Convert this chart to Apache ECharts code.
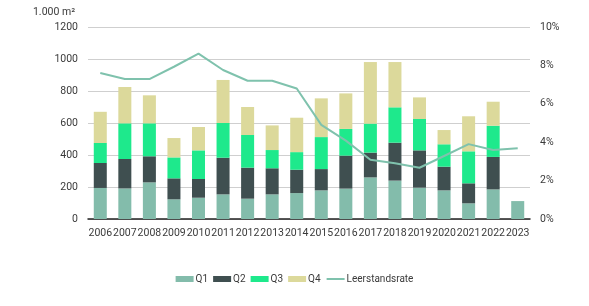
<!DOCTYPE html>
<html><head><meta charset="utf-8">
<script src="https://cdn.jsdelivr.net/npm/echarts@6/dist/echarts.min.js"></script>
<style>html,body{margin:0;padding:0;background:#fff}#c{width:589px;height:306px}</style>
</head><body><div id="c"></div>
<script>
const years = ['2006','2007','2008','2009','2010','2011','2012','2013','2014','2015','2016','2017','2018','2019','2020','2021','2022','2023'];
const q1 = [194,191,229,123,133,154,127,154,162,179,190,260,240,196,179,98,185,112];
const q2 = [156,184,163,131,117,229,194,163,146,133,206,155,237,233,148,125,203,null];
const q3 = [125,223,206,131,179,217,204,114,110,200,167,181,221,196,140,200,195,null];
const q4 = [195,227,175,121,146,269,175,154,215,242,222,385,283,135,89,219,150,null];
const rate = [7.6,7.29,7.29,7.93,8.61,7.76,7.2,7.2,6.8,4.9,4.08,3.09,2.9,2.67,3.28,3.9,3.59,3.68];
const leftTicks = {min:0,max:1200,interval:200};
const rightTicks = {min:0,max:10,interval:2};

const font = 'Roboto';
const txt = '#3a3a3a';
const chart = echarts.init(document.getElementById('c'), null, {renderer:'canvas'});
const barBase = {type:'bar', stack:'a', barWidth:'53%'};
chart.setOption({
  animation:false,
  textStyle:{fontFamily:font},
  grid:{left:88,right:59,top:27,bottom:87},
  legend:{
    bottom:17, left:'center', itemWidth:18, itemHeight:6, itemGap:5,
    textStyle:{fontFamily:font,fontSize:10,color:txt,padding:[0,0,0,-3]},
    data:[{name:'Q1',icon:'rect'},{name:'Q2',icon:'rect'},{name:'Q3',icon:'rect'},{name:'Q4',icon:'rect'},
          {name:'Leerstandsrate',itemStyle:{opacity:0}}]
  },
  xAxis:{type:'category',data:years,
    axisLine:{lineStyle:{color:'#222',width:1.5}},axisTick:{show:false},
    axisLabel:{interval:0,color:txt,fontSize:10.5,fontFamily:font,margin:9}},
  yAxis:[
    {type:'value',min:leftTicks.min,max:leftTicks.max,interval:leftTicks.interval,
     name:'1.000 m²',nameGap:9,nameTextStyle:{align:'right',padding:[0,13,0,0],color:txt,fontSize:10.5,fontFamily:font},
     axisLabel:{color:txt,fontSize:10.5,fontFamily:font,margin:10,formatter:v=>String(v)},
     splitLine:{lineStyle:{color:'#cfcfcf'}},axisLine:{show:false},axisTick:{show:false}},
    {type:'value',min:rightTicks.min,max:rightTicks.max,interval:rightTicks.interval,
     axisLabel:{formatter:'{value}%',color:txt,fontSize:10.5,fontFamily:font,margin:10},
     splitLine:{show:false},axisLine:{show:false},axisTick:{show:false}}
  ],
  series:[
    Object.assign({name:'Q1',data:q1,itemStyle:{color:'#83bcab'}},barBase),
    Object.assign({name:'Q2',data:q2,itemStyle:{color:'#3f4f50'}},barBase),
    Object.assign({name:'Q3',data:q3,itemStyle:{color:'#1ee98c'}},barBase),
    Object.assign({name:'Q4',data:q4,itemStyle:{color:'#dcd99b'}},barBase),
    {name:'Leerstandsrate',type:'line',yAxisIndex:1,data:rate,showSymbol:false,symbol:'none',
     lineStyle:{color:'#7fc2ad',width:2},itemStyle:{color:'#7fc2ad'}}
  ]
});
</script></body></html>
